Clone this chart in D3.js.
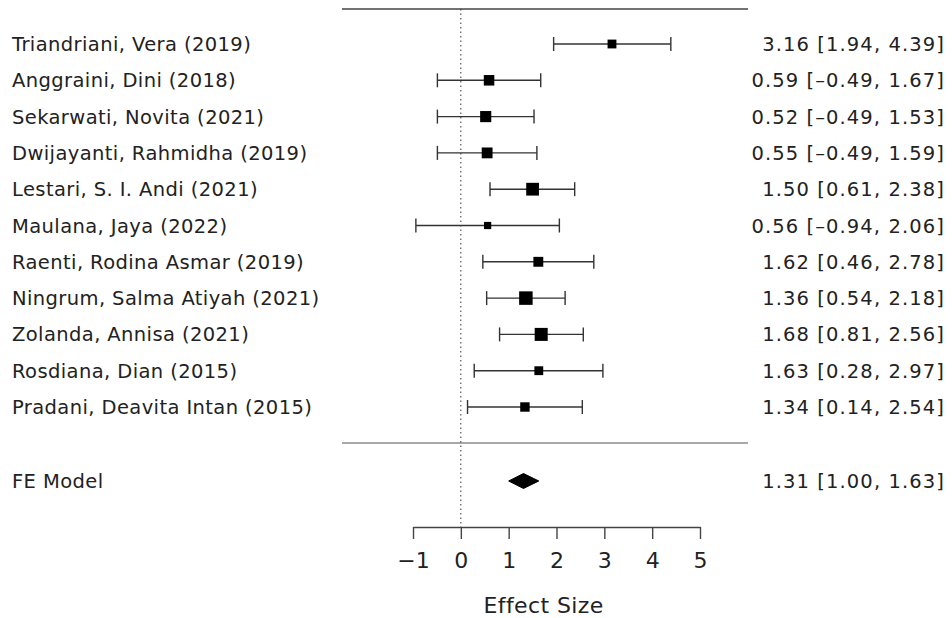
<!DOCTYPE html>
<html><head><meta charset="utf-8">
<script src="https://cdn.jsdelivr.net/npm/d3@7"></script>
<style>body{margin:0;background:#fff}svg{display:block}text{font-family:"DejaVu Sans",sans-serif;fill:#222}</style>
</head><body>
<script>
const studies = ["Triandriani, Vera (2019)","Anggraini, Dini (2018)","Sekarwati, Novita (2021)","Dwijayanti, Rahmidha (2019)","Lestari, S. I. Andi (2021)","Maulana, Jaya (2022)","Raenti, Rodina Asmar (2019)","Ningrum, Salma Atiyah (2021)","Zolanda, Annisa (2021)","Rosdiana, Dian (2015)","Pradani, Deavita Intan (2015)"];
const est =   [3.16,0.59,0.52,0.55,1.50,0.56,1.62,1.36,1.68,1.63,1.34];
const lower = [1.94,-0.49,-0.49,-0.49,0.61,-0.94,0.46,0.54,0.81,0.28,0.14];
const upper = [4.39,1.67,1.53,1.59,2.38,2.06,2.78,2.18,2.56,2.97,2.54];
const weights = [6,8.5,9.5,9,12.5,4,7.5,14,13,6,6.8];
const fe = {label:"FE Model", est:1.31, lower:1.00, upper:1.63};
const xTicks = [-1,0,1,2,3,4,5];

const W=952,H=618;
const svg=d3.select("body").append("svg").attr("width",W).attr("height",H);
const x=d3.scaleLinear().domain([-1,5]).range([413,700]);
const y=d3.scaleLinear().domain([0,10]).range([44,407]);
const yFE=481, yTop=9, ySep=443, yAxis=527;
const sz=d3.scaleSqrt().domain([0,14]).range([0,13.5]);
const fmt=v=>v.toFixed(2).replace("-","\u2013");

svg.append("line").attr("x1",342).attr("x2",748).attr("y1",yTop).attr("y2",yTop).attr("stroke","#444").attr("stroke-width",1.5);
svg.append("line").attr("x1",342).attr("x2",748).attr("y1",ySep).attr("y2",ySep).attr("stroke","#555").attr("stroke-width",1.2);
svg.append("line").attr("x1",x(0)).attr("x2",x(0)).attr("y1",yTop).attr("y2",yAxis).attr("stroke","#333").attr("stroke-width",1).attr("stroke-dasharray","1.5,3");

const rows=studies.map((s,i)=>({s,e:est[i],l:lower[i],u:upper[i],w:weights[i],i}));
const g=svg.append("g");
rows.forEach(d=>{
  const yy=y(d.i);
  g.append("line").attr("x1",x(d.l)).attr("x2",x(d.u)).attr("y1",yy).attr("y2",yy).attr("stroke","#333").attr("stroke-width",1.4);
  [d.l,d.u].forEach(v=>g.append("line").attr("x1",x(v)).attr("x2",x(v)).attr("y1",yy-7).attr("y2",yy+7).attr("stroke","#333").attr("stroke-width",1.4));
  const s=sz(d.w);
  g.append("rect").attr("x",x(d.e)-s/2).attr("y",yy-s/2).attr("width",s).attr("height",s).attr("fill","#000");
  g.append("text").attr("x",12).attr("y",yy).attr("dy","0.36em").attr("font-size",19.5).attr("letter-spacing",0.4).text(d.s);
  g.append("text").attr("x",945).attr("y",yy).attr("dy","0.36em").attr("text-anchor","end").attr("font-size",19.5).attr("letter-spacing",1.1)
    .text(`${fmt(d.e)} [${fmt(d.l)}, ${fmt(d.u)}]`);
});
svg.append("path").attr("d",`M${x(fe.lower)},${yFE}L${x(fe.est)},${yFE-7.5}L${x(fe.upper)},${yFE}L${x(fe.est)},${yFE+7.5}Z`).attr("fill","#000").attr("stroke","#000").attr("stroke-width",1);
svg.append("text").attr("x",12).attr("y",yFE).attr("dy","0.36em").attr("font-size",19.5).attr("letter-spacing",0.4).text(fe.label);
svg.append("text").attr("x",945).attr("y",yFE).attr("dy","0.36em").attr("text-anchor","end").attr("font-size",19.5).attr("letter-spacing",1.1)
  .text(`${fmt(fe.est)} [${fmt(fe.lower)}, ${fmt(fe.upper)}]`);

const ax=svg.append("g").attr("transform",`translate(0,${yAxis})`)
  .call(d3.axisBottom(x).tickValues(xTicks).tickSize(12).tickSizeOuter(0).tickFormat(d=>d<0?"\u2212"+Math.abs(d):d));
ax.select(".domain").attr("stroke","#444").attr("stroke-width",1.4);
ax.selectAll(".tick line").attr("stroke","#444").attr("stroke-width",1.4);
ax.selectAll(".tick text").attr("font-size",22).attr("fill","#222").attr("font-family","DejaVu Sans, sans-serif").attr("dy",null).attr("y",41);
svg.append("text").attr("x",x(1.73)).attr("y",613).attr("text-anchor","middle").attr("font-size",22).attr("letter-spacing",0.4).text("Effect Size");
</script>
</body></html>
